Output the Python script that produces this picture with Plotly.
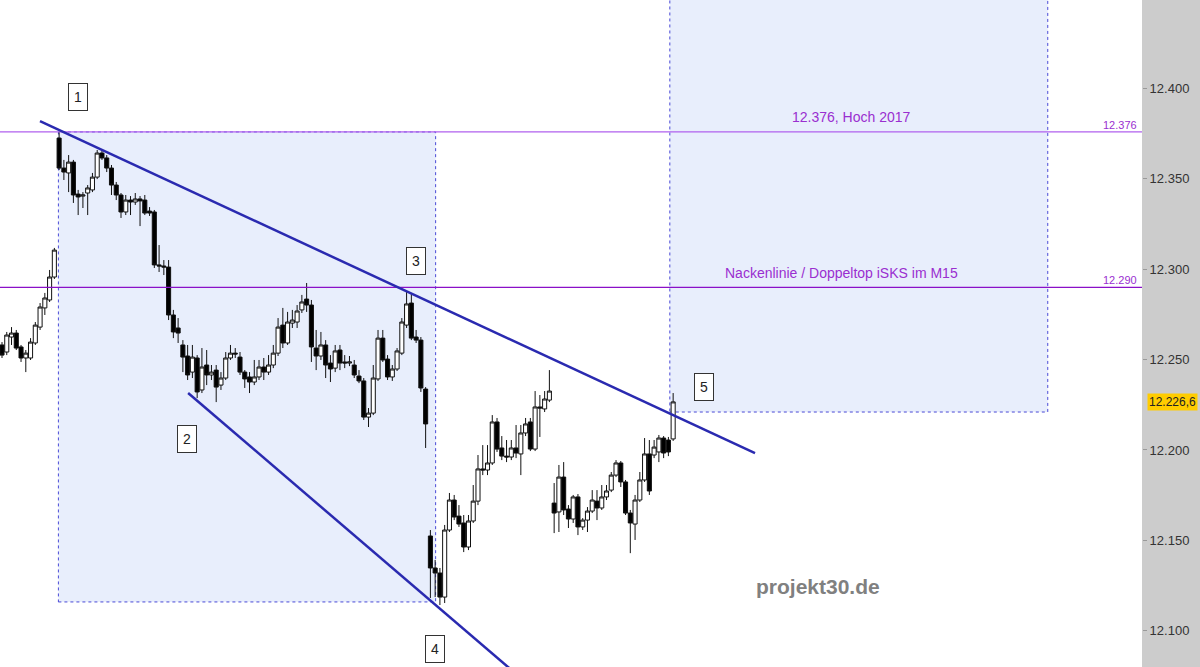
import plotly.graph_objects as go

# ---- OHLC data (index points) ----
opens = [
    12258.1, 12254.2, 12262.5, 12264.7, 12257.0, 12250.9, 12250.9, 12259.2, 12268.0, 12278.6,
    12283.0, 12295.7, 12372.6, 12356.0, 12353.3, 12359.3, 12341.6, 12340.5, 12342.2, 12343.9,
    12351.0, 12364.3, 12361.6, 12356.0, 12346.6, 12341.1, 12331.7, 12338.3, 12337.2, 12338.9,
    12338.3, 12332.2, 12331.7, 12302.4, 12301.8, 12301.2, 12274.7, 12267.5, 12258.1, 12252.0,
    12243.1, 12250.9, 12233.2, 12247.0, 12241.5, 12244.2, 12235.9, 12239.8, 12250.9, 12253.6,
    12251.4, 12243.1, 12240.4, 12237.6, 12240.4, 12245.9, 12243.1, 12247.0, 12253.6, 12269.1,
    12259.2, 12270.2, 12270.8, 12277.5, 12283.5, 12280.2, 12256.4, 12252.0, 12258.1, 12248.1,
    12245.3, 12255.3, 12248.7, 12248.1, 12247.0, 12240.9, 12238.2, 12218.2, 12220.4, 12239.3,
    12261.9, 12250.3, 12240.4, 12244.8, 12253.6, 12269.1, 12281.3, 12262.5, 12260.8, 12233.7,
    12152.4, 12134.7, 12131.9, 12118.6, 12155.7, 12172.3, 12163.4, 12159.6, 12146.3, 12160.7,
    12171.7, 12189.5, 12188.9, 12192.8, 12215.5, 12201.1, 12196.6, 12196.1, 12201.1, 12197.8,
    12209.4, 12215.5, 12200.5, 12223.8, 12222.7, 12227.6,
    12170.6, 12165.7, 12185.0, 12167.3, 12161.8, 12174.0, 12157.4, 12161.2, 12166.2, 12171.7,
    12167.9, 12174.0, 12177.8, 12186.1, 12192.8, 12182.3, 12165.1, 12159.0, 12172.3, 12183.4,
    12197.8, 12197.2, 12198.9, 12206.6, 12205.5, 12206.1,
]
highs = [
    12259.7, 12265.3, 12268.0, 12266.4, 12258.1, 12255.3, 12261.9, 12270.8, 12281.3, 12286.9,
    12299.6, 12311.8, 12376.0, 12360.5, 12363.2, 12360.5, 12343.9, 12342.7, 12346.6, 12353.3,
    12366.0, 12366.0, 12363.2, 12357.7, 12348.3, 12342.2, 12341.1, 12340.5, 12342.2, 12340.5,
    12341.1, 12334.4, 12332.8, 12313.4, 12305.1, 12305.1, 12277.5, 12273.0, 12260.8, 12258.1,
    12258.1, 12252.5, 12256.4, 12255.3, 12247.0, 12247.0, 12243.1, 12254.2, 12258.1, 12256.4,
    12254.2, 12244.2, 12243.1, 12249.8, 12249.8, 12250.9, 12252.5, 12258.1, 12273.0, 12278.6,
    12276.4, 12277.5, 12280.2, 12285.8, 12292.4, 12283.0, 12266.4, 12265.3, 12260.8, 12252.5,
    12258.1, 12258.1, 12252.5, 12252.0, 12249.8, 12244.2, 12239.8, 12223.2, 12247.0, 12266.4,
    12266.4, 12252.5, 12247.0, 12256.4, 12273.0, 12288.0, 12286.9, 12266.4, 12262.5, 12234.8,
    12155.7, 12139.1, 12134.7, 12158.5, 12176.2, 12175.1, 12169.5, 12164.0, 12164.0, 12180.6,
    12197.2, 12202.7, 12202.7, 12219.3, 12217.7, 12207.7, 12205.5, 12205.5, 12213.8, 12213.8,
    12217.7, 12217.7, 12232.6, 12230.4, 12232.6, 12244.2,
    12181.7, 12191.7, 12193.3, 12169.5, 12175.1, 12175.6, 12162.3, 12168.4, 12177.8, 12177.8,
    12180.6, 12180.6, 12187.8, 12194.4, 12193.9, 12183.4, 12166.8, 12175.1, 12187.8, 12206.6,
    12205.5, 12205.5, 12208.3, 12207.7, 12207.2, 12231.5,
]
lows = [
    12250.9, 12252.5, 12258.1, 12255.3, 12248.7, 12243.1, 12249.8, 12258.1, 12266.4, 12274.7,
    12281.9, 12294.6, 12354.9, 12349.4, 12342.7, 12336.7, 12330.0, 12333.9, 12330.0, 12342.7,
    12349.9, 12360.5, 12353.8, 12341.1, 12338.3, 12328.4, 12330.0, 12330.0, 12335.6, 12323.9,
    12330.0, 12329.5, 12300.7, 12298.5, 12296.8, 12271.9, 12261.9, 12259.2, 12243.1, 12238.7,
    12239.8, 12228.7, 12231.5, 12235.9, 12238.7, 12226.5, 12233.2, 12238.7, 12249.8, 12250.9,
    12241.5, 12234.3, 12231.5, 12235.9, 12238.7, 12238.7, 12241.5, 12245.3, 12252.0, 12256.4,
    12258.1, 12267.5, 12267.5, 12275.8, 12276.4, 12248.7, 12244.2, 12249.8, 12239.8, 12237.6,
    12243.1, 12244.2, 12245.3, 12246.4, 12239.8, 12237.0, 12216.6, 12212.7, 12219.3, 12238.2,
    12248.7, 12238.7, 12238.2, 12243.7, 12252.5, 12267.5, 12260.8, 12259.2, 12232.1, 12201.1,
    12118.1, 12118.6, 12114.2, 12115.3, 12154.6, 12161.2, 12157.4, 12143.5, 12144.6, 12159.6,
    12169.5, 12186.1, 12186.1, 12191.7, 12198.9, 12194.4, 12193.3, 12194.4, 12195.5, 12186.1,
    12207.7, 12199.4, 12199.4, 12207.2, 12221.0, 12226.5,
    12154.0, 12154.6, 12164.0, 12156.8, 12159.6, 12152.9, 12155.7, 12154.6, 12165.1, 12161.2,
    12166.8, 12172.3, 12176.7, 12185.0, 12179.5, 12164.0, 12142.9, 12150.2, 12171.2, 12182.3,
    12175.1, 12195.5, 12193.3, 12195.5, 12196.6, 12205.0,
]
closes = [
    12252.5, 12263.6, 12264.7, 12256.4, 12250.9, 12253.6, 12259.7, 12269.1, 12279.1, 12284.1,
    12295.7, 12310.6, 12356.0, 12353.8, 12359.3, 12341.1, 12340.0, 12341.1, 12345.0, 12351.0,
    12364.3, 12361.6, 12356.0, 12346.6, 12341.1, 12331.7, 12338.3, 12337.2, 12338.9, 12337.8,
    12331.1, 12331.1, 12302.4, 12301.8, 12301.2, 12274.7, 12265.3, 12264.7, 12251.4, 12241.5,
    12251.4, 12232.1, 12245.9, 12241.5, 12243.1, 12234.8, 12239.8, 12250.9, 12253.6, 12253.1,
    12243.1, 12239.3, 12237.6, 12240.4, 12245.9, 12243.1, 12247.0, 12253.6, 12268.0, 12259.2,
    12270.8, 12271.9, 12276.9, 12281.9, 12280.2, 12257.0, 12252.0, 12258.1, 12247.0, 12244.8,
    12254.8, 12248.1, 12248.1, 12248.7, 12241.5, 12238.2, 12218.2, 12220.4, 12239.8, 12261.9,
    12249.8, 12240.4, 12244.8, 12254.8, 12270.8, 12280.8, 12261.9, 12260.8, 12234.3, 12214.4,
    12134.7, 12131.9, 12118.6, 12155.7, 12172.3, 12162.9, 12159.0, 12146.3, 12160.7, 12171.7,
    12189.5, 12188.9, 12192.8, 12215.5, 12200.5, 12196.6, 12196.1, 12201.1, 12198.3, 12209.4,
    12214.4, 12200.5, 12223.8, 12223.2, 12228.2, 12232.6,
    12165.1, 12185.0, 12166.8, 12161.8, 12174.0, 12157.4, 12161.2, 12166.2, 12172.3, 12167.9,
    12174.0, 12177.3, 12186.1, 12192.8, 12182.3, 12165.1, 12159.6, 12172.3, 12183.4, 12197.8,
    12177.3, 12201.6, 12206.6, 12198.3, 12198.9, 12226.6,
]
bar_index = list(range(len(opens)))

# ---- levels / annotations ----
level_high_2017 = 12376.0
level_neckline = 12290.0
last_price = 12226.6
tick_values = [12100, 12150, 12200, 12250, 12300, 12350, 12400, 12450]
tick_labels = ["12.100", "12.150", "12.200", "12.250", "12.300", "12.350", "12.400", "12.450"]

# projection boxes (bar index, price)
box1 = dict(x0=11.85, x1=91.1, y0=12115.9, y1=12376.0)
box2 = dict(x0=140.3, x1=219.7, y0=12221.0, y1=12481.0)
# trend lines (bar index, price)
upper_line = dict(x0=7.98, y0=12382.0, x1=158.2, y1=12198.3)
lower_line = dict(x0=39.1, y0=12231.5, x1=113.0, y1=12064.8)
# wave labels
wave_labels = ["1", "2", "3", "4", "5"]
wave_x = [16.0, 38.9, 87.0, 91.0, 147.5]
wave_y = [12395.3, 12206.1, 12304.6, 12089.8, 12234.8]

x_range = [-0.42, 239.5]
y_range = [12079.9, 12449.0]

FONT = "Arial, Liberation Sans, sans-serif"
PURPLE_TXT = "#9a2fd0"

fig = go.Figure()
fig.add_trace(go.Candlestick(
    x=bar_index, open=opens, high=highs, low=lows, close=closes,
    increasing=dict(line=dict(color="#111111", width=1), fillcolor="#ffffff"),
    decreasing=dict(line=dict(color="#111111", width=1), fillcolor="#000000"),
    whiskerwidth=0, showlegend=False, hoverinfo="skip",
))

shapes = []
for b in (box1, box2):
    shapes.append(dict(type="rect", xref="x", yref="y", layer="below",
                       x0=b["x0"], x1=b["x1"], y0=b["y0"], y1=b["y1"],
                       fillcolor="#e8eefc",
                       line=dict(color="#4a4ad6", width=1, dash="3px,3px")))
shapes.append(dict(type="line", xref="paper", yref="y", x0=0, x1=1,
                   y0=level_high_2017, y1=level_high_2017,
                   line=dict(color="#b060ee", width=1.3)))
shapes.append(dict(type="line", xref="paper", yref="y", x0=0, x1=1,
                   y0=level_neckline, y1=level_neckline,
                   line=dict(color="#8a10c8", width=1.3)))
for ln in (upper_line, lower_line):
    shapes.append(dict(type="line", xref="x", yref="y",
                       x0=ln["x0"], y0=ln["y0"], x1=ln["x1"], y1=ln["y1"],
                       line=dict(color="#2a2ab0", width=2.5)))

annotations = []
for t, xv, yv in zip(wave_labels, wave_x, wave_y):
    annotations.append(dict(x=xv, y=yv, xref="x", yref="y", text=t, showarrow=False,
                            xanchor="center", yanchor="middle",
                            font=dict(family=FONT, size=14, color="#222222"),
                            bgcolor="#ffffff", bordercolor="#333333", borderwidth=1,
                            borderpad=5))
annotations += [
    dict(x=0.746, y=level_high_2017, xref="paper", yref="y", xanchor="center",
         yanchor="bottom", yshift=5,
         text="12.376, Hoch 2017", showarrow=False,
         font=dict(family=FONT, size=14, color=PURPLE_TXT)),
    dict(x=0.737, y=level_neckline, xref="paper", yref="y", xanchor="center",
         yanchor="bottom", yshift=4,
         text="Nackenlinie / Doppeltop iSKS im M15", showarrow=False,
         font=dict(family=FONT, size=14, color=PURPLE_TXT)),
    dict(x=1, y=level_high_2017, xref="paper", yref="y", xanchor="right", yanchor="bottom",
         xshift=-3, yshift=-1, text="12.376", showarrow=False,
         font=dict(family=FONT, size=11, color=PURPLE_TXT)),
    dict(x=1, y=level_neckline, xref="paper", yref="y", xanchor="right", yanchor="bottom",
         xshift=-3, yshift=-1, text="12.290", showarrow=False,
         font=dict(family=FONT, size=11, color=PURPLE_TXT)),
    dict(x=1, y=last_price, xref="paper", yref="y", xanchor="left", yanchor="middle",
         xshift=5, text="12.226,6", showarrow=False, bgcolor="#ffcc00", borderpad=1,
         font=dict(family=FONT, size=12, color="#222222")),
    dict(x=0.716, y=0.12, xref="paper", yref="paper", xanchor="center", yanchor="middle",
         text="<b>projekt30.de</b>",
         showarrow=False, font=dict(family=FONT, size=21, color="#808080")),
]

fig.update_layout(
    width=1200, height=667,
    margin=dict(l=0, r=58, t=0, b=0, pad=0),
    paper_bgcolor="#cccccc", plot_bgcolor="#ffffff",
    shapes=shapes, annotations=annotations,
    showlegend=False, boxgap=0.1, boxgroupgap=0.05,
    xaxis=dict(range=x_range, visible=False, rangeslider=dict(visible=False),
               showgrid=False, zeroline=False, fixedrange=True),
    yaxis=dict(range=y_range, side="right", showgrid=False, zeroline=False,
               tickvals=tick_values, ticktext=tick_labels, ticks="outside",
               ticklen=4, tickcolor="#999999",
               tickfont=dict(family=FONT, size=13, color="#333333")),
)

fig.write_html("out.html", config={"displayModeBar": False},
               post_script="document.body.style.margin='0';document.body.style.padding='0';")
